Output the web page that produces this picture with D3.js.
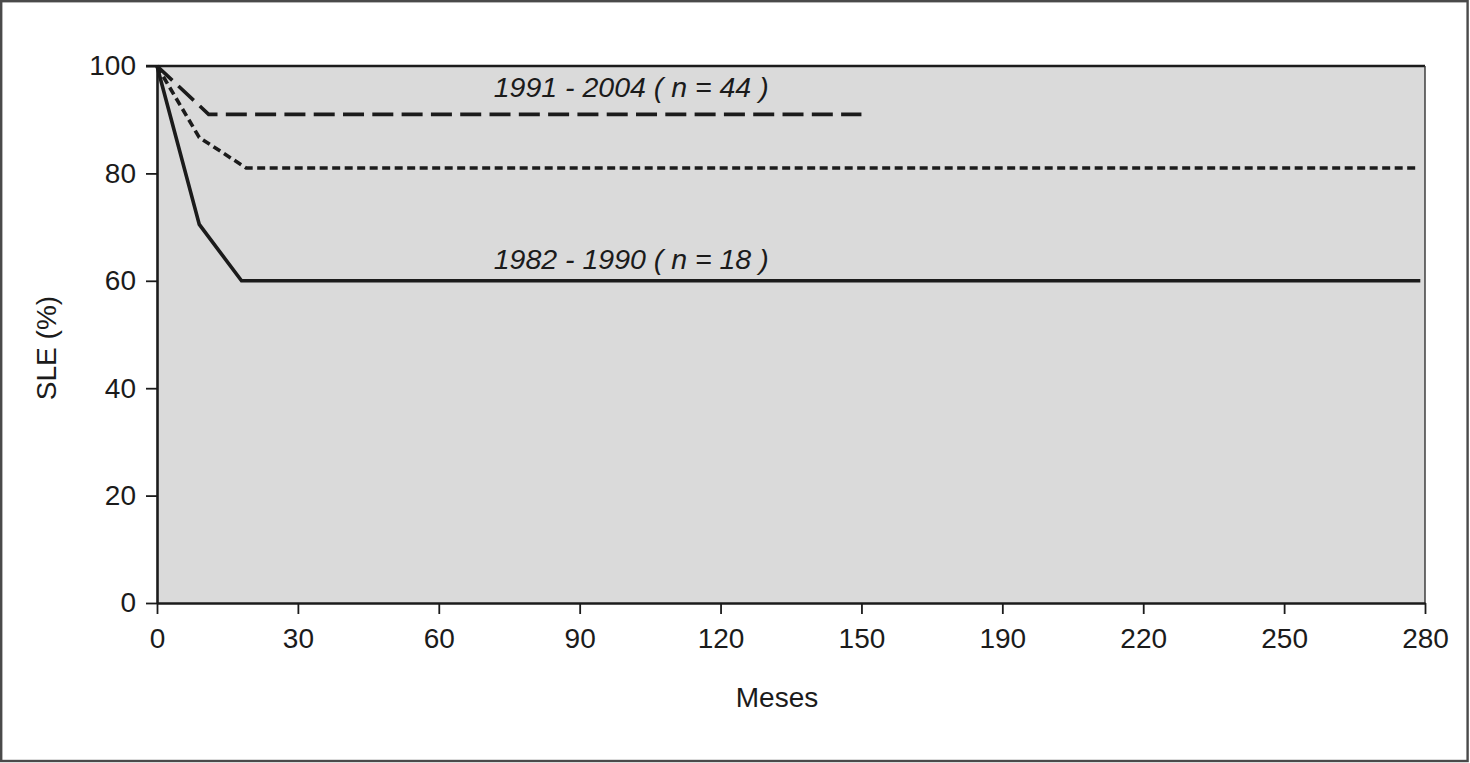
<!DOCTYPE html>
<html>
<head>
<meta charset="utf-8">
<script src="https://cdn.jsdelivr.net/npm/d3@7"></script>
<style>
  html, body { margin: 0; padding: 0; background: #fff; }
  svg { display: block; font-family: "Liberation Sans", Arial, sans-serif; }
</style>
</head>
<body>
<svg id="chart" width="1470" height="763"></svg>
<script>
// ---- data ----
const xTickValues = [0, 30, 60, 90, 120, 150, 190, 220, 250, 280];
const yTickValues = [0, 20, 40, 60, 80, 100];
const xBreaks = [0, 150, 190, 280];

const months1991 = [0, 11, 150];
const sle1991 = [100, 91, 91];

const monthsAll = [0, 9, 19, 278];
const sleAll = [100, 86.7, 81, 81];

const months1982 = [0, 9, 18, 279];
const sle1982 = [100, 70.5, 60, 60];

const labelTexts = ["1991 - 2004 ( n = 44 )", "1982 - 1990 ( n = 18 )"];
const labelPos = [[70, 94.2], [70, 62.2]];   // [month, SLE] at text baseline
const xTitle = "Meses";
const yTitle = "SLE (%)";

// ---- layout ----
const svg = d3.select("#chart");
const W = 1470, H = 763;
const mLeft = 157, mRight = 1425, mTop = 66, mBottom = 603;
const ink = "#1b1b1b";

// outer frame
svg.append("rect")
  .attr("x", 1.2).attr("y", 1.2).attr("width", W - 3.6).attr("height", H - 3.2)
  .attr("fill", "#fff").attr("stroke", "#4a4a4a").attr("stroke-width", 2.4);

// piecewise x scale: equally spaced ticks
const x = d3.scaleLinear()
  .domain(xBreaks)
  .range(xBreaks.map(v => mLeft + (mRight - mLeft) * xTickValues.indexOf(v) / (xTickValues.length - 1)));
const y = d3.scaleLinear().domain([0, 100]).range([mBottom, mTop]);

// plot background
svg.append("rect")
  .attr("x", mLeft).attr("y", mTop).attr("width", mRight - mLeft).attr("height", mBottom - mTop)
  .attr("fill", "#dadada");
// top border
svg.append("line").attr("x1", mLeft - 11).attr("x2", mRight).attr("y1", mTop).attr("y2", mTop)
  .attr("stroke", ink).attr("stroke-width", 2.4);
// right border
svg.append("line").attr("x1", mRight).attr("x2", mRight).attr("y1", mTop).attr("y2", mBottom)
  .attr("stroke", "#333").attr("stroke-width", 1.4);

// axes
const yAxis = d3.axisLeft(y).tickValues(yTickValues).tickSize(11).tickPadding(10).tickSizeOuter(0);
const gy = svg.append("g").attr("transform", `translate(${mLeft},0)`).call(yAxis);
const xAxis = d3.axisBottom(x).tickValues(xTickValues).tickSize(11).tickPadding(14).tickSizeOuter(0)
  .tickFormat(d3.format("d"));
const gx = svg.append("g").attr("transform", `translate(0,${mBottom})`).call(xAxis);

[gx, gy].forEach(g => {
  g.select(".domain").attr("stroke", ink).attr("stroke-width", 2.6);
  g.selectAll(".tick line").attr("stroke", ink).attr("stroke-width", 1.8);
  g.selectAll(".tick text").attr("fill", ink).style("font-size", "28px")
    .style("font-family", "'Liberation Sans', Arial, sans-serif");
});

// lines
const line = d3.line().x(d => x(d[0])).y(d => y(d[1]));
const series = [
  { m: months1982, v: sle1982, dash: null },
  { m: monthsAll, v: sleAll, dash: "8,4.5" },
  { m: months1991, v: sle1991, dash: "21,8.3" }
];
series.forEach(s => {
  svg.append("path")
    .datum(s.m.map((mm, i) => [mm, s.v[i]]))
    .attr("d", line)
    .attr("fill", "none")
    .attr("stroke", ink)
    .attr("stroke-width", 3.6)
    .attr("stroke-linejoin", "miter")
    .attr("stroke-dasharray", s.dash);
});

// series labels
labelTexts.forEach((t, i) => {
  svg.append("text")
    .attr("x", x(labelPos[i][0]) + 8)
    .attr("y", y(labelPos[i][1]))
    .attr("fill", ink)
    .style("font-size", "28.5px")
    .style("font-style", "italic")
    .text(t);
});

// axis titles
svg.append("text")
  .attr("x", 777).attr("y", 707)
  .attr("text-anchor", "middle").attr("fill", ink)
  .style("font-size", "28px").text(xTitle);
svg.append("text")
  .attr("transform", "translate(56,348) rotate(-90)")
  .attr("text-anchor", "middle").attr("fill", ink)
  .style("font-size", "28px").text(yTitle);
</script>
</body>
</html>
